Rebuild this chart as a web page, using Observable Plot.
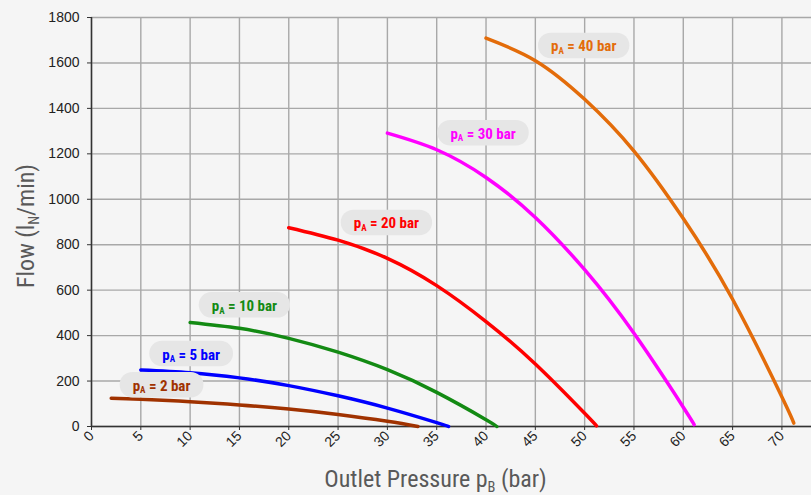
<!DOCTYPE html>
<html>
<head>
<meta charset="utf-8">
<script src="https://cdn.jsdelivr.net/npm/d3@7"></script>
<script src="https://cdn.jsdelivr.net/npm/@observablehq/plot@0.6"></script>
<style>
  html, body { margin: 0; padding: 0; background: #f5f5f5; }
  #chart { width: 811px; height: 495px; }
</style>
</head>
<body>
<div id="chart"></div>
<script>
// ---- data ----
const pressures = [2, 5, 10, 20, 30, 40];
const colors = ["#a03200", "#0000ff", "#138a13", "#ff0000", "#ff00ff", "#e36c0a"];

const pA2x = [2, 5, 10, 15, 20, 25, 30, 33.1];
const pA2y = [124, 120, 109, 95, 77, 53, 23, 0];

const pA5x = [5, 10, 15, 20, 25, 30, 35, 36.2];
const pA5y = [249, 237, 214, 180, 135, 81, 17, 0];

const pA10x = [10, 15, 20, 25, 30, 35, 40, 41.1];
const pA10y = [458, 432, 388, 327, 250, 150, 30, 0];

const pA20x = [20, 25, 30, 35, 40, 45, 50, 51.2];
const pA20y = [875, 820, 740, 620, 462, 275, 58, 3];

const pA30x = [30, 35, 40, 45, 50, 55, 60, 61.1];
const pA30y = [1291, 1218, 1096, 920, 690, 410, 85, 8];

const pA40x = [40, 45, 50, 55, 60, 65, 70, 71.2];
const pA40y = [1709, 1610, 1440, 1212, 915, 560, 130, 15];

// label anchor positions (data units)
const labelX = [7.1, 10.1, 15.5, 29.9, 39.7, 49.9];
const labelY = [179, 316, 530, 893, 1288, 1672];

const xTicks = [0, 5, 10, 15, 20, 25, 30, 35, 40, 45, 50, 55, 60, 65, 70];
const yTicks = [0, 200, 400, 600, 800, 1000, 1200, 1400, 1600, 1800];

const xTitle = "Outlet Pressure p_B (bar)";
const yTitle = "Flow (l_N/min)";

// ---- build tables ----
const seriesX = [pA2x, pA5x, pA10x, pA20x, pA30x, pA40x];
const seriesY = [pA2y, pA5y, pA10y, pA20y, pA30y, pA40y];
const lineData = pressures.flatMap((p, k) => seriesX[k].map((x, i) => ({p, x, y: seriesY[k][i]})));
const labelData = pressures.map((p, k) => ({p, x: labelX[k], y: labelY[k], text: `p_A = ${p} bar`}));

const narrow = "'Roboto Condensed', Roboto, sans-serif";

const svg = Plot.plot({
  width: 811,
  height: 495,
  marginLeft: 91,
  marginRight: 0,
  marginTop: 17,
  marginBottom: 69,
  style: {background: "#f5f5f5", fontFamily: "'Liberation Sans', Arial, sans-serif", fontSize: "14px", color: "#222"},
  x: {domain: [0, 73], axis: null},
  y: {domain: [0, 1800], axis: null},
  color: {domain: pressures, range: colors},
  marks: [
    Plot.gridX(xTicks, {stroke: "#a8a8a8", strokeOpacity: 1, strokeWidth: 1.4}),
    Plot.gridY(yTicks, {stroke: "#a8a8a8", strokeOpacity: 1, strokeWidth: 1.4}),
    Plot.axisY(yTicks, {tickSize: 4, tickPadding: 8, fontSize: 14, label: null, stroke: "#333", tickFormat: d => String(d)}),
    Plot.axisX(xTicks, {tickSize: 4, tickPadding: 3, tickRotate: -45, fontSize: 14, label: null, stroke: "#333", tickFormat: d => String(d)}),
    Plot.ruleX([0], {stroke: "#333", strokeWidth: 1.5}),
    Plot.ruleY([0], {stroke: "#333", strokeWidth: 1.5}),
    Plot.line(lineData, {x: "x", y: "y", z: "p", stroke: "p", strokeWidth: 3.5, curve: "natural", strokeLinecap: "round"}),
    Plot.text(labelData, {x: "x", y: "y", text: "text", fill: "p", fontSize: 15, fontWeight: "bold", fontFamily: narrow, ariaDescription: "pill-label"}),
    Plot.text([yTitle], {text: d => d, frameAnchor: "left", rotate: -90, textAnchor: "middle", lineAnchor: "middle", dx: -65, dy: 4, fontSize: 24, fill: "#595959", fontFamily: narrow}),
    Plot.text([xTitle], {text: d => d, frameAnchor: "bottom", textAnchor: "middle", lineAnchor: "middle", dx: -16, dy: 53, fontSize: 24, fill: "#595959", fontFamily: narrow})
  ]
});

document.getElementById("chart").append(svg);

const ns = "http://www.w3.org/2000/svg";
// subscripts: character after "_" becomes a subscript
svg.querySelectorAll("text").forEach(t => {
  const s = t.textContent;
  const i = s.indexOf("_");
  if (i < 0) return;
  const before = s.slice(0, i), subc = s.slice(i + 1, i + 2), after = s.slice(i + 2);
  t.textContent = "";
  const a = document.createElementNS(ns, "tspan"); a.textContent = before; t.appendChild(a);
  const b = document.createElementNS(ns, "tspan"); b.textContent = subc;
  b.setAttribute("font-size", "0.6em"); b.setAttribute("dy", "0.3em"); t.appendChild(b);
  const c = document.createElementNS(ns, "tspan"); c.textContent = after;
  c.setAttribute("dy", "-0.18em"); t.appendChild(c);
});

// pill backgrounds behind the curve labels
svg.querySelectorAll("g[aria-description='pill-label'] text").forEach(t => {
  const bb = t.getBBox();
  const first = t.querySelector("tspan");
  const fb = first ? first.getBBox() : bb;
  const cy = fb.y + fb.height / 2 - 1;
  const r = document.createElementNS(ns, "rect");
  const pad = 13, h = 25.5;
  r.setAttribute("x", bb.x - pad);
  r.setAttribute("y", cy - h / 2);
  r.setAttribute("width", bb.width + 2 * pad);
  r.setAttribute("height", h);
  r.setAttribute("rx", h / 2);
  r.setAttribute("fill", "#e6e6e6");
  r.setAttribute("stroke", "none");
  if (t.getAttribute("transform")) r.setAttribute("transform", t.getAttribute("transform"));
  t.parentNode.insertBefore(r, t);
});
</script>
</body>
</html>
